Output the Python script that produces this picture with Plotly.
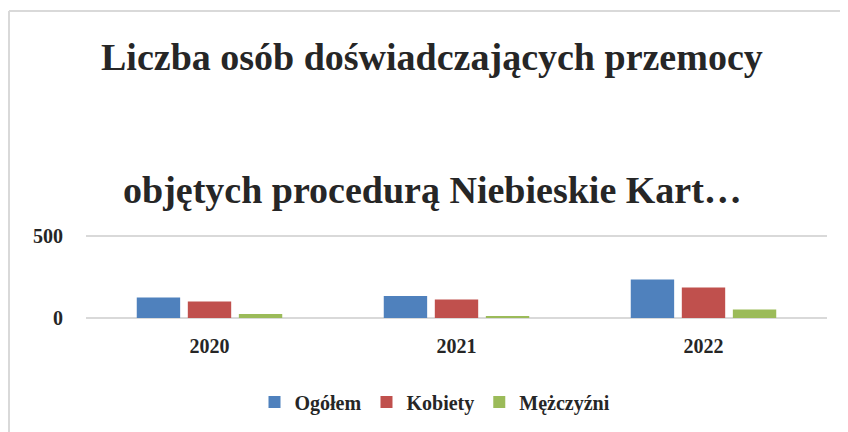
import plotly.graph_objects as go

years = ["2020", "2021", "2022"]
ogolem = [124, 134, 234]
kobiety = [100, 112, 185]
mezczyzni = [24, 12, 51]
series_names = ["Ogółem", "Kobiety", "Mężczyźni"]
colors = ["#4F81BD", "#C0504D", "#9BBB59"]
title_lines = ["Liczba osób doświadczających przemocy", "objętych procedurą Niebieskie Kart…"]
y_ticks = [0, 500]

font_family = "Liberation Serif"
dark = "#262626"

OFF = 8  # page body margin
W, H = 848, 432
ML, MR, MT, MB = 86 - OFF, 848 - (827 - OFF), 226, 432 - (318 - OFF)
PW, PH = W - ML - MR, H - MT - MB

def xp(px):
    return (px - OFF - ML) / PW

def yp(py):
    return (H - MB - (py - OFF)) / PH

fig = go.Figure()
for name, vals, col in zip(series_names, [ogolem, kobiety, mezczyzni], colors):
    fig.add_trace(go.Bar(x=years, y=vals, name=name, marker=dict(color=col, line=dict(width=0))))

tick_font = dict(family=font_family, size=20, color=dark, weight="bold")
fig.update_layout(
    width=W, height=H,
    paper_bgcolor="white", plot_bgcolor="white",
    margin=dict(l=ML, r=MR, t=MT, b=MB, autoexpand=False),
    barmode="group", bargap=0.38, bargroupgap=0.15,
    showlegend=True,
    legend=dict(orientation="h", x=xp(435), xanchor="center", y=yp(402), yanchor="middle",
                font=dict(family=font_family, size=20, color=dark, weight="bold"),
                itemwidth=30, traceorder="normal"),
    xaxis=dict(showgrid=False, showline=False, ticks="", ticklabelstandoff=14,
               tickfont=tick_font),
    yaxis=dict(range=[0, 510], tickvals=y_ticks, showgrid=True, gridcolor="#D9D9D9", gridwidth=2,
               zeroline=True, zerolinecolor="#D9D9D9", zerolinewidth=2, showline=False, ticks="",
               ticklabelstandoff=22, tickfont=tick_font),
)

title_font = dict(family=font_family, size=38, color=dark, weight="bold")
fig.add_annotation(text=title_lines[0], xref="paper", yref="paper", x=xp(432), y=yp(57),
                   xanchor="center", yanchor="middle", showarrow=False, font=title_font)
fig.add_annotation(text=title_lines[1], xref="paper", yref="paper", x=xp(432), y=yp(190),
                   xanchor="center", yanchor="middle", showarrow=False, font=title_font)

border = dict(color="#D9D9D9", width=2)
fig.add_shape(type="line", xref="paper", yref="paper",
              x0=xp(9), x1=xp(860), y0=yp(11), y1=yp(11), line=border)
fig.add_shape(type="line", xref="paper", yref="paper",
              x0=xp(9), x1=xp(9), y0=yp(11), y1=yp(445), line=border)

fig.write_html("out.html")
